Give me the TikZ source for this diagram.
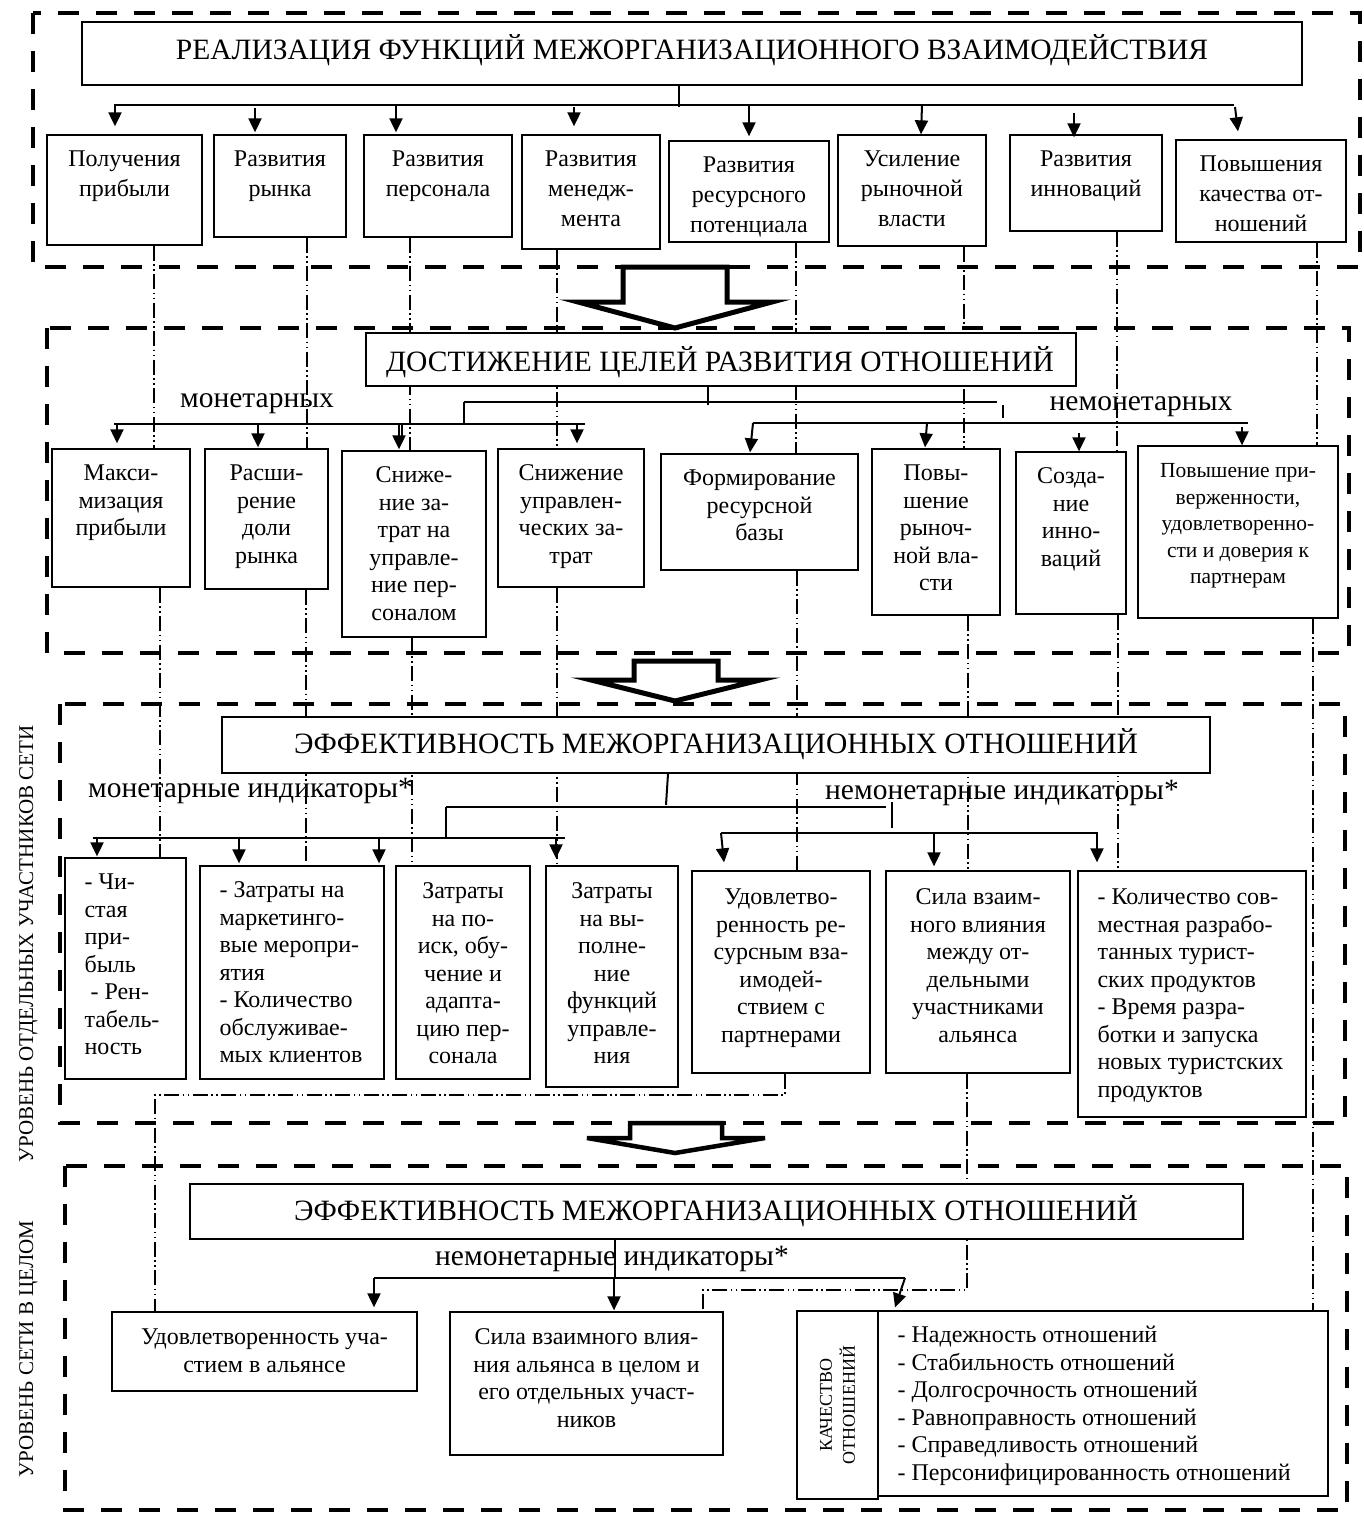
\documentclass[tikz,border=0pt]{standalone}
\usepackage{fontspec}
\setmainfont{Liberation Serif}
\usetikzlibrary{arrows.meta,fit}
\newcommand\fst{\rule{0pt}{20pt}}
\newcommand\bxx[5]{\coordinate (#1-a) at (#2,#3);\coordinate (#1-b) at (#4,#5);\node[bx, fit=(#1-a)(#1-b)] (#1) {};}
\tikzset{
 sect/.style={line width=4.5pt, dash pattern=on 21pt off 17pt},
 bx/.style={draw, line width=1.3pt, fill=white, inner sep=0pt},
 br/.style={line width=2pt},
 arr/.style={line width=2pt, -{Triangle[length=14pt,width=13pt]}},
 ddd/.style={line width=1.1pt, dash pattern=on 15pt off 3.5pt on 1.5pt off 3.5pt on 1.5pt off 3.5pt},
 hol/.style={line width=5pt, line join=miter, fill=white},
 ta/.style={anchor=north, align=center, inner sep=0pt, yshift=-12pt, font={\fontsize{24}{30}\selectfont}},
 tb/.style={anchor=north, align=center, inner sep=0pt, yshift=-12pt, font={\fontsize{24}{27.5}\selectfont}},
 tl/.style={anchor=north west, align=left, inner sep=0pt, yshift=-12pt, xshift=20pt, font={\fontsize{24}{27.5}\selectfont}},
 hd/.style={anchor=base, inner sep=0pt, font={\fontsize{29.5}{34}\selectfont}},
 lb/.style={anchor=base, inner sep=0pt, font={\fontsize{29.5}{32}\selectfont}},
 vl/.style={anchor=base, rotate=90, inner sep=0pt, font={\fontsize{21}{24}\selectfont}},
}
\begin{document}
\begin{tikzpicture}[x=1pt,y=-1pt]
\useasboundingbox (0,0) rectangle (1364,1514);
% section frames
\draw[sect] (33,13) rectangle (1360,267);
\draw[sect] (47,328) rectangle (1349,653);
\draw[sect] (60,704) rectangle (1345,1123);
\draw[sect] (65,1166) rectangle (1347,1510);
% side labels
\node[vl] (lev1) at (33,944) {УРОВЕНЬ ОТДЕЛЬНЫХ УЧАСТНИКОВ СЕТИ};
\node[vl] (lev2) at (33,1349) {УРОВЕНЬ СЕТИ В ЦЕЛОМ};
% boxes section 1
\bxx{b1}{47}{135}{202}{245}
\bxx{b2}{214}{135}{346}{237}
\bxx{b3}{364}{135}{512}{237}
\bxx{b4}{522}{135}{660}{249}
\bxx{b5}{669}{141}{829}{242}
\bxx{b6}{838}{135}{986}{246}
\bxx{b7}{1010}{135}{1162}{231}
\bxx{b8}{1176}{140}{1346}{242}
% section 2 boxes
\bxx{c1}{52}{449}{190}{587}
\bxx{c2}{205}{449}{328}{589}
\bxx{c3}{342}{451}{486}{637}
\bxx{c4}{498}{449}{644}{587}
\bxx{c5}{661}{454}{858}{570}
\bxx{c6}{872}{449}{1000}{615}
\bxx{c7}{1016}{452}{1126}{614}
\bxx{c8}{1138}{446}{1338}{618}
% section 3 boxes
\bxx{d1}{65}{858}{186}{1079}
\bxx{d2}{200}{866}{384}{1079}
\bxx{d3}{396}{866}{530}{1079}
\bxx{d4}{546}{866}{678}{1087}
\bxx{d5}{692}{871}{870}{1073}
\bxx{d6}{886}{871}{1070}{1073}
\bxx{d7}{1078}{871}{1306}{1117}
% section 4 boxes
\bxx{e1}{112}{1312}{417}{1391}
\bxx{e2}{450}{1312}{723}{1455}
\bxx{e3}{797}{1311}{878}{1499}
\bxx{e4}{878}{1311}{1328}{1496}
% dash-dot-dot links (drawn before headers so headers hide them)
\draw[ddd] (b1.south -| 154,0) -- (c1.north -| 154,0);
\draw[ddd] (c1.south -| 160,0) -- (d1.north -| 160,0);
\draw[ddd] (b2.south -| 307,0) -- (c2.north -| 307,0);
\draw[ddd] (c2.south -| 306,0) -- (d2.north -| 306,0);
\draw[ddd] (b3.south -| 410,0) -- (c3.north -| 410,0);
\draw[ddd] (c3.south -| 412,0) -- (d3.north -| 412,0);
\draw[ddd] (b4.south -| 557,0) -- (c4.north -| 557,0);
\draw[ddd] (c4.south -| 557,0) -- (d4.north -| 557,0);
\draw[ddd] (b5.south -| 796,0) -- (c5.north -| 796,0);
\draw[ddd] (c5.south -| 797,0) -- (d5.north -| 797,0);
\draw[ddd] (d5.south -| 785,0) -- (785,1095) -- (155,1095) -- (e1.north -| 155,0);
\draw[ddd] (b6.south -| 964,0) -- (c6.north -| 964,0);
\draw[ddd] (c6.south -| 968,0) -- (d6.north -| 968,0);
\draw[ddd] (d6.south -| 967,0) -- (967,1290) -- (703,1290) -- (e2.north -| 703,0);
\draw[ddd] (b7.south -| 1117,0) -- (c7.north -| 1117,0);
\draw[ddd] (c7.south -| 1118,0) -- (d7.north -| 1118,0);
\draw[ddd] (b8.south -| 1317,0) -- (c8.north -| 1317,0);
\draw[ddd] (c8.south -| 1313,0) -- (e4.north -| 1313,0);
% headers
\bxx{h1}{82}{22}{1302}{85}
\node[hd] (h1t) at (692,60) {РЕАЛИЗАЦИЯ ФУНКЦИЙ МЕЖОРГАНИЗАЦИОННОГО ВЗАИМОДЕЙСТВИЯ};
\bxx{h2}{366}{333}{1076}{386}
\node[hd] (h2t) at (720,371) {ДОСТИЖЕНИЕ ЦЕЛЕЙ РАЗВИТИЯ ОТНОШЕНИЙ};
\bxx{h3}{222}{717}{1210}{773}
\node[hd] (h3t) at (716,753) {ЭФФЕКТИВНОСТЬ МЕЖОРГАНИЗАЦИОННЫХ ОТНОШЕНИЙ};
\bxx{h4}{190}{1184}{1243}{1239}
\node[hd] (h4t) at (716,1220) {ЭФФЕКТИВНОСТЬ МЕЖОРГАНИЗАЦИОННЫХ ОТНОШЕНИЙ};
% hollow arrows
\draw[hol] (623,267) -- (727,267) -- (727,302) -- (772,302) -- (675,328) -- (578,302) -- (623,302) -- cycle;
\draw[hol] (634,661) -- (718,661) -- (718,680) -- (760,680) -- (675,701) -- (591,680) -- (634,680) -- cycle;
\draw[hol, line width=4.5pt] (630,1123) -- (722,1123) -- (722,1138) -- (765,1138) -- (675,1153) -- (587,1138) -- (630,1138) -- cycle;
% box texts section 1
\node[ta] (b1t) at (b1.north) {\fst Получения\\прибыли};
\node[ta] (b2t) at (b2.north) {\fst Развития\\рынка};
\node[ta] (b3t) at (b3.north) {\fst Развития\\персонала};
\node[ta] (b4t) at (b4.north) {\fst Развития\\менедж-\\мента};
\node[ta] (b5t) at (b5.north) {\fst Развития\\ресурсного\\потенциала};
\node[ta] (b6t) at (b6.north) {\fst Усиление\\рыночной\\власти};
\node[ta] (b7t) at (b7.north) {\fst Развития\\инноваций};
\node[ta] (b8t) at (b8.north) {\fst Повышения\\качества от-\\ношений};
% section 2 texts
\node[tb] (c1t) at (c1.north) {\fst Макси-\\мизация\\прибыли};
\node[tb] (c2t) at (c2.north) {\fst Расши-\\рение\\доли\\рынка};
\node[tb] (c3t) at (c3.north) {\fst Сниже-\\ние за-\\трат на\\управле-\\ние пер-\\соналом};
\node[tb] (c4t) at (c4.north) {\fst Снижение\\управлен-\\ческих за-\\трат};
\node[tb] (c5t) at (c5.north) {\fst Формирование\\ресурсной\\базы};
\node[tb] (c6t) at (c6.north) {\fst Повы-\\шение\\рыноч-\\ной вла-\\сти};
\node[tb] (c7t) at (c7.north) {\fst Созда-\\ние\\инно-\\ваций};
\node[tb, font={\fontsize{21.5}{26.5}\selectfont}] (c8t) at (c8.north) {\fst Повышение при-\\верженности,\\удовлетворенно-\\сти и доверия к\\партнерам};
% section 3 texts
\node[tl] (d1t) at (d1.north west) {\fst - Чи-\\стая\\при-\\быль\\\hspace*{6pt}- Рен-\\табель-\\ность};
\node[tl] (d2t) at (d2.north west) {\fst - Затраты на\\маркетинго-\\вые меропри-\\ятия\\- Количество\\обслуживае-\\мых клиентов};
\node[tb, yshift=-1pt] (d3t) at (d3.north) {\fst Затраты\\на по-\\иск, обу-\\чение и\\адапта-\\цию пер-\\сонала};
\node[tb, yshift=-1pt] (d4t) at (d4.north) {\fst Затраты\\на вы-\\полне-\\ние\\функций\\управле-\\ния};
\node[tb, yshift=-2pt] (d5t) at (d5.north) {\fst Удовлетво-\\ренность ре-\\сурсным вза-\\имодей-\\ствием с\\партнерами};
\node[tb, yshift=-2pt] (d6t) at (d6.north) {\fst Сила взаим-\\ного влияния\\между от-\\дельными\\участниками\\альянса};
\node[tl, yshift=-2pt] (d7t) at (d7.north west) {\fst - Количество сов-\\местная разрабо-\\танных турист-\\ских продуктов\\- Время разра-\\ботки и запуска\\новых туристских\\продуктов};
% section 4 texts
\node[tb, yshift=-1pt] (e1t) at (e1.north) {\fst Удовлетворенность уча-\\стием в альянсе};
\node[tb, yshift=-1pt] (e2t) at (e2.north) {\fst Сила взаимного влия-\\ния альянса в целом и\\его отдельных участ-\\ников};
\node[rotate=90, align=center, inner sep=0pt, font={\fontsize{18}{23}\selectfont}] (e3t) at (e3.center) {КАЧЕСТВО\\ОТНОШЕНИЙ};
\node[tl] (e4t) at (e4.north west) {\fst - Надежность отношений\\- Стабильность отношений\\- Долгосрочность отношений\\- Равноправность отношений\\- Справедливость отношений\\- Персонифицированность отношений};
% group labels
\node[lb] (mon2) at (257,407) {монетарных};
\node[lb] (nmon2) at (1141,410) {немонетарных};
\node[lb, anchor=base west] (mon3) at (88,797) {монетарные индикаторы*};
\node[lb, anchor=base west] (nmon3) at (825,799) {немонетарные индикаторы*};
\node[lb, anchor=base west] (nmon4) at (435,1265) {немонетарные индикаторы*};
% branches section 1
\coordinate (r1) at (679,105);
\draw[br] (h1.south -| r1) -- (679,107);
\draw[br] (114,105) -- (1234,105);
\draw[arr] (115,105) -- ([yshift=8pt]b1.north -| 115,0);
\draw[arr] (255,108) -- ([yshift=2pt]b2.north -| 255,0);
\draw[arr] (396,105) -- ([yshift=2pt]b3.north -| 396,0);
\draw[arr] (574,107) -- ([yshift=8pt]b4.north -| 574,0);
\draw[arr] (749,105) -- ([yshift=4pt]b5.north -| 749,0);
\draw[arr] (922,105) -- (b6.north -| 921,0);
\draw[arr] (1074,113) -- ([yshift=-3pt]b7.north -| 1074,0);
\draw[arr] (1235,107) -- ([yshift=8pt]b8.north -| 1238,0);
% branches section 2
\draw[br] (h2.south -| 708,0) -- (708,405);
\draw[br] (464,402) -- (997,402);
\draw[br] (464,402) -- (464,424);
\draw[br] (114,424) -- (585,424);
\draw[arr] (117,424) -- ([yshift=5pt]c1.north -| 117,0);
\draw[arr] (258,424) -- ([yshift=1pt]c2.north -| 258,0);
\draw[br] (402,424) -- (402,440);
\draw[arr] (399,424) -- ([yshift=1pt]c3.north -| 399,0);
\draw[arr] (577,424) -- ([yshift=5pt]c4.north -| 577,0);
\draw[br] (1003,405) -- (1003,418);
\draw[br] (753,423) -- (1248,423);
\draw[arr] (753,423) -- ([yshift=1pt]c5.north -| 750,0);
\draw[arr] (927,423) -- ([yshift=1pt]c6.north -| 925,0);
\draw[arr] (1079,433) -- (c7.north -| 1079,0);
\draw[arr] (1242,427) -- (c8.north -| 1242,0);
% branches section 3
\draw[br] (h3.south -| 668,0) -- (666,805);
\draw[br] (446,807) -- (886,807);
\draw[br] (446,807) -- (446,838);
\draw[br] (93,838) -- (565,838);
\draw[arr] (97,838) -- ([yshift=1pt]d1.north -| 97,0);
\draw[arr] (239,838) -- ([yshift=2pt]d2.north -| 239,0);
\draw[arr] (379,838) -- ([yshift=2pt]d2.north -| 379,0);
\draw[arr] (556,838) -- ([yshift=7pt]d4.north -| 556,0);
\draw[br] (892,802) -- (892,828);
\draw[br] (721,833) -- (1098,833);
\draw[arr] (721,833) -- ([yshift=8pt]d5.north -| 724,0);
\draw[arr] (934,833) -- ([yshift=4pt]d6.north -| 934,0);
\draw[arr] (1097,833) -- ([yshift=8pt]d7.north -| 1097,0);
% branches section 4
\draw[br] (h4.south -| 615,0) -- (615,1278);
\draw[br] (374,1278) -- (905,1278);
\draw[arr] (374,1278) -- ([yshift=4pt]e1.north -| 374,0);
\draw[arr] (614,1278) -- ([yshift=1pt]e2.north -| 614,0);
\draw[arr] (905,1278) -- ([yshift=3pt]e4.north -| 895,0);
\end{tikzpicture}
\end{document}
